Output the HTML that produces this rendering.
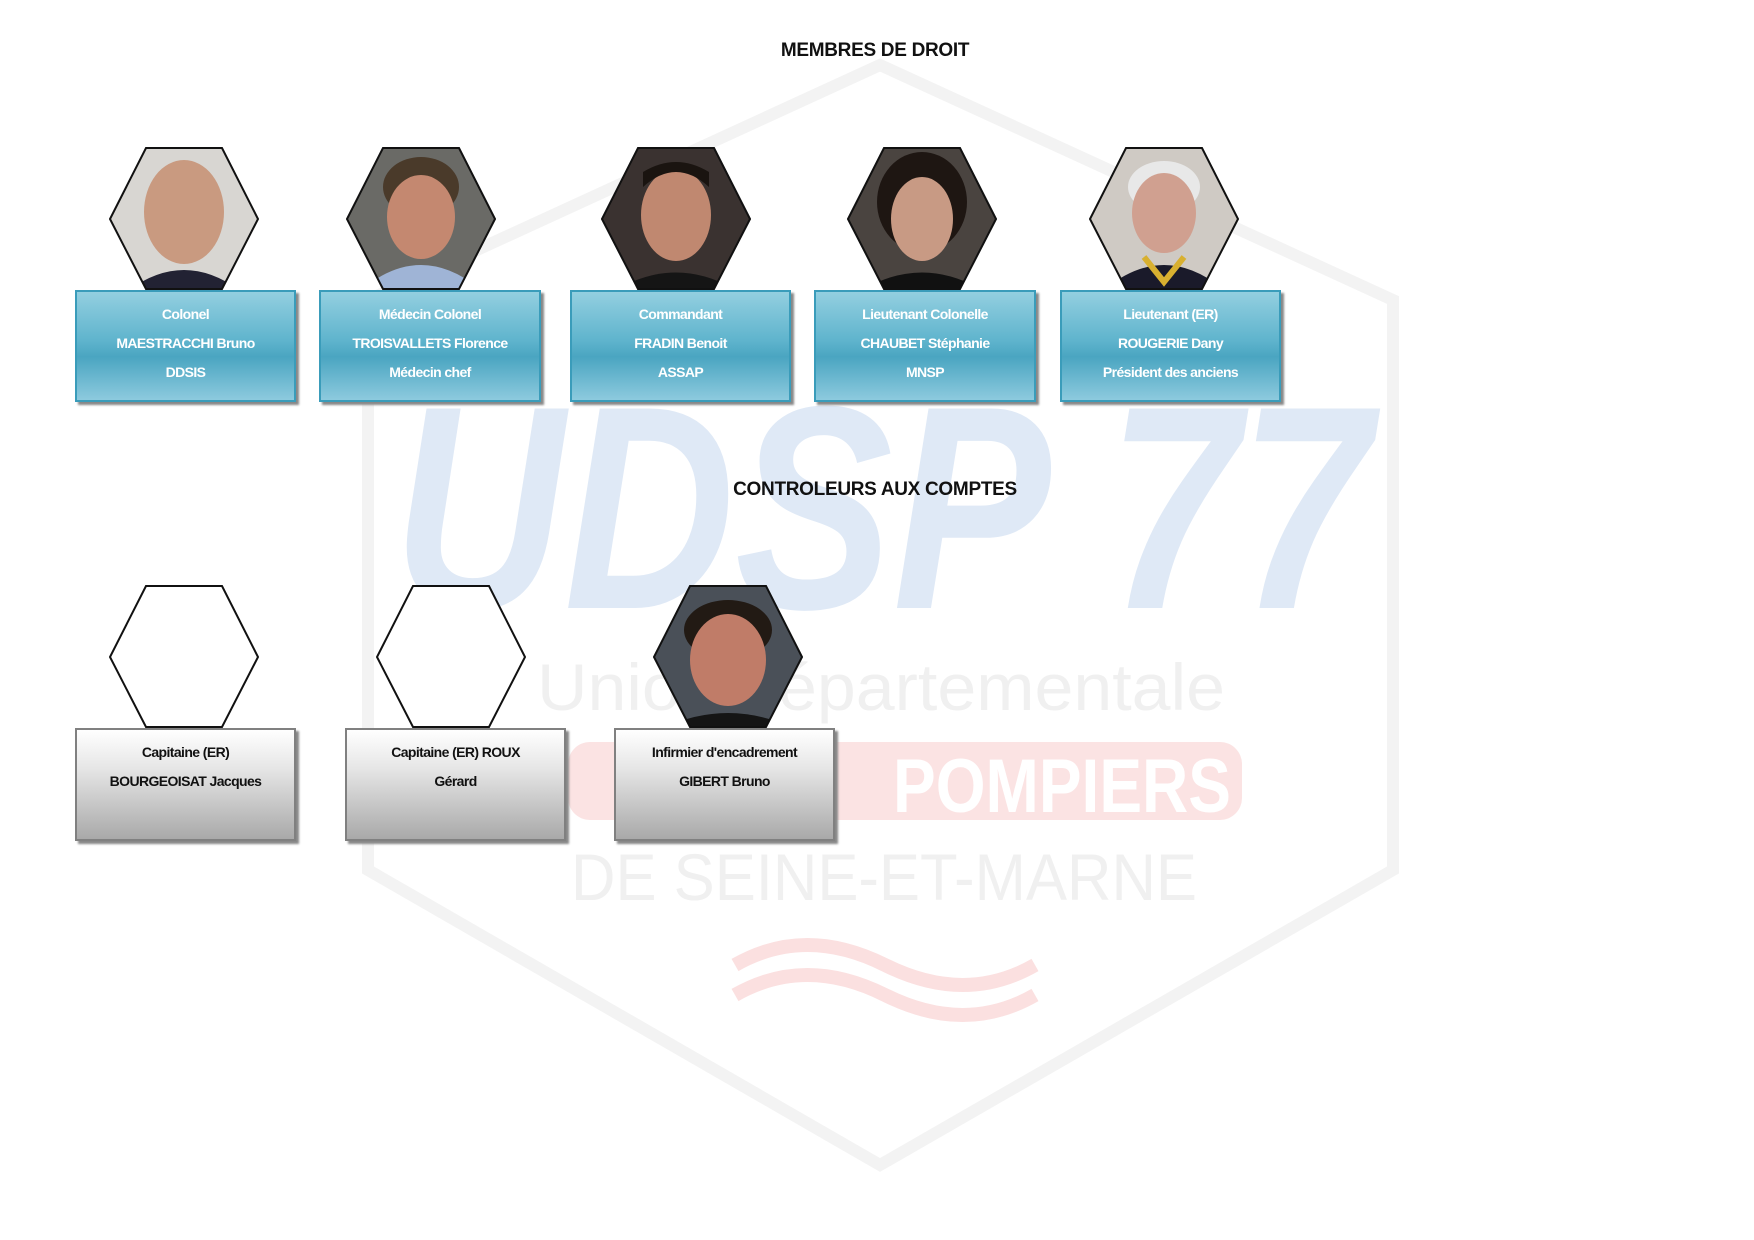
<!DOCTYPE html>
<html><head><meta charset="utf-8"><style>
body{margin:0;width:1754px;height:1240px;background:#fff;position:relative;overflow:hidden;font-family:"Liberation Sans",Arial,sans-serif;}
.t{position:absolute;font-weight:bold;font-size:19px;color:#111;transform:translateX(-50%);white-space:nowrap;letter-spacing:-0.3px}
.box{position:absolute;box-sizing:border-box;height:112px;text-align:center;font-weight:bold;font-size:14px;letter-spacing:-0.6px;box-shadow:3px 3px 2px #888;}
.blue{background:linear-gradient(#93cfe0 0%,#5fb4cd 45%,#4aa5c1 60%,#8dcade 100%);border:2px solid #3a9cba;color:#fff;}
.gray{background:linear-gradient(#fff 0%,#e6e6e6 35%,#a9a9a9 100%);border:2px solid #808080;color:#111;height:113px}
.box div{position:absolute;left:0;right:0}
.hex{position:absolute}
</style></head><body>
<svg style="position:absolute;left:0;top:0" width="1754" height="1240">
<polygon points="880,65 1393,300 1393,870 880,1165 368,870 368,300" fill="none" stroke="#f3f3f3" stroke-width="12"/>
<text x="393" y="608" textLength="978" lengthAdjust="spacingAndGlyphs" font-family="Liberation Sans" font-weight="bold" font-style="italic" font-size="290" fill="#dfe9f6">UDSP 77</text>
<text x="537" y="710" textLength="688" lengthAdjust="spacingAndGlyphs" font-family="Liberation Sans" font-size="66" fill="#f0f0f0">Union départementale</text>
<rect x="568" y="742" width="674" height="78" rx="22" fill="#fbe3e3"/>
<text x="893" y="812" textLength="338" lengthAdjust="spacingAndGlyphs" font-family="Liberation Sans" font-weight="bold" font-size="76" fill="#fff">POMPIERS</text>
<text x="571" y="900" textLength="626" lengthAdjust="spacingAndGlyphs" font-family="Liberation Sans" font-size="66" fill="#f0f0f0">DE SEINE-ET-MARNE</text>
<path d="M735,965 q70,-40 150,0 t150,0" stroke="#fbe0e0" stroke-width="14" fill="none"/>
<path d="M735,995 q70,-40 150,0 t150,0" stroke="#fbe0e0" stroke-width="14" fill="none"/>
<defs>
<clipPath id="h"><polygon points="37,0 113,0 150,72 113,143 37,143 0,72"/></clipPath>
</defs>
</svg>

<div class="t" style="left:875px;top:40px">MEMBRES DE DROIT</div>
<div class="t" style="left:875px;top:479px">CONTROLEURS AUX COMPTES</div>

<svg class="hex" style="left:109px;top:147px" width="150" height="143"><g clip-path="url(#h)"><rect width="150" height="143" fill="#d8d6d2"/><ellipse cx="75" cy="65" rx="40" ry="52" fill="#c99a80"/><path d="M20,143 q55,-40 110,0z" fill="#223"/></g><polygon points="37,1 113,1 149,72 113,142 37,142 1,72" fill="none" stroke="#111" stroke-width="2"/></svg>
<svg class="hex" style="left:346px;top:147px" width="150" height="143"><g clip-path="url(#h)"><rect width="150" height="143" fill="#6a6a66"/><ellipse cx="75" cy="40" rx="38" ry="30" fill="#4a3a2a"/><ellipse cx="75" cy="70" rx="34" ry="42" fill="#c48870"/><path d="M15,143 q60,-50 120,0z" fill="#9fb4d6"/></g><polygon points="37,1 113,1 149,72 113,142 37,142 1,72" fill="none" stroke="#111" stroke-width="2"/></svg>
<svg class="hex" style="left:601px;top:147px" width="150" height="143"><g clip-path="url(#h)"><rect width="150" height="143" fill="#3a3230"/><ellipse cx="75" cy="68" rx="35" ry="46" fill="#c08870"/><path d="M42,40 q33,-30 66,0 v-15 q-33,-20 -66,0z" fill="#1a1410"/><path d="M15,143 q60,-35 120,0z" fill="#151515"/></g><polygon points="37,1 113,1 149,72 113,142 37,142 1,72" fill="none" stroke="#111" stroke-width="2"/></svg>
<svg class="hex" style="left:847px;top:147px" width="150" height="143"><g clip-path="url(#h)"><rect width="150" height="143" fill="#4a4440"/><ellipse cx="75" cy="55" rx="45" ry="50" fill="#1e1612"/><ellipse cx="75" cy="72" rx="31" ry="42" fill="#c89a84"/><path d="M15,143 q60,-35 120,0z" fill="#111"/></g><polygon points="37,1 113,1 149,72 113,142 37,142 1,72" fill="none" stroke="#111" stroke-width="2"/></svg>
<svg class="hex" style="left:1089px;top:147px" width="150" height="143"><g clip-path="url(#h)"><rect width="150" height="143" fill="#cfcac4"/><ellipse cx="75" cy="40" rx="36" ry="26" fill="#e8e8e8"/><ellipse cx="75" cy="66" rx="32" ry="40" fill="#d0a090"/><path d="M15,143 q60,-50 120,0z" fill="#1a1a2a"/><path d="M55,110 l20,25 l20,-25" stroke="#d8b030" stroke-width="6" fill="none"/></g><polygon points="37,1 113,1 149,72 113,142 37,142 1,72" fill="none" stroke="#111" stroke-width="2"/></svg>

<div class="box blue" style="left:75px;top:290px;width:221px"><div style="top:14px">Colonel</div><div style="top:43px">MAESTRACCHI Bruno</div><div style="top:72px">DDSIS</div></div>
<div class="box blue" style="left:319px;top:290px;width:222px"><div style="top:14px">Médecin Colonel</div><div style="top:43px">TROISVALLETS Florence</div><div style="top:72px">Médecin chef</div></div>
<div class="box blue" style="left:570px;top:290px;width:221px"><div style="top:14px">Commandant</div><div style="top:43px">FRADIN Benoit</div><div style="top:72px">ASSAP</div></div>
<div class="box blue" style="left:814px;top:290px;width:222px"><div style="top:14px">Lieutenant Colonelle</div><div style="top:43px">CHAUBET Stéphanie</div><div style="top:72px">MNSP</div></div>
<div class="box blue" style="left:1060px;top:290px;width:221px"><div style="top:14px">Lieutenant (ER)</div><div style="top:43px">ROUGERIE Dany</div><div style="top:72px">Président des anciens</div></div>

<svg class="hex" style="left:109px;top:585px" width="150" height="143"><polygon points="37,1 113,1 149,72 113,142 37,142 1,72" fill="#fff" stroke="#111" stroke-width="2"/></svg>
<svg class="hex" style="left:376px;top:585px" width="150" height="143"><polygon points="37,1 113,1 149,72 113,142 37,142 1,72" fill="#fff" stroke="#111" stroke-width="2"/></svg>
<svg class="hex" style="left:653px;top:585px" width="150" height="143"><g clip-path="url(#h)"><rect width="150" height="143" fill="#4a5058"/><ellipse cx="75" cy="45" rx="44" ry="30" fill="#221a14"/><ellipse cx="75" cy="75" rx="38" ry="46" fill="#c07c68"/><path d="M10,143 q65,-30 130,0z" fill="#151515"/></g><polygon points="37,1 113,1 149,72 113,142 37,142 1,72" fill="none" stroke="#111" stroke-width="2"/></svg>

<div class="box gray" style="left:75px;top:728px;width:221px"><div style="top:14px">Capitaine (ER)</div><div style="top:43px">BOURGEOISAT Jacques</div></div>
<div class="box gray" style="left:345px;top:728px;width:221px"><div style="top:14px">Capitaine (ER) ROUX</div><div style="top:43px">Gérard</div></div>
<div class="box gray" style="left:614px;top:728px;width:221px"><div style="top:14px">Infirmier d'encadrement</div><div style="top:43px">GIBERT Bruno</div></div>
</body></html>
